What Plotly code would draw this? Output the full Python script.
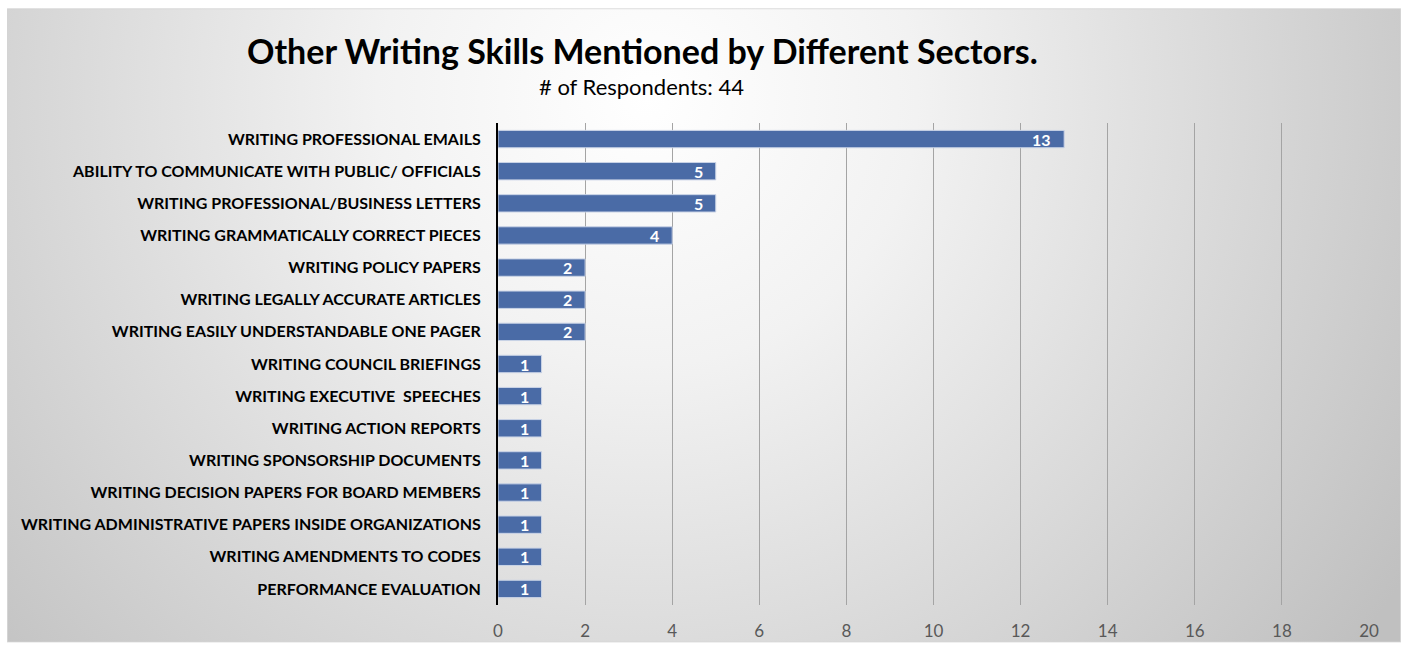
import base64
import plotly.graph_objects as go

# Writing skills named by respondents, listed top to bottom
skills = [
    "WRITING PROFESSIONAL EMAILS",
    "ABILITY TO COMMUNICATE WITH PUBLIC/ OFFICIALS",
    "WRITING PROFESSIONAL/BUSINESS LETTERS",
    "WRITING GRAMMATICALLY CORRECT PIECES",
    "WRITING POLICY PAPERS",
    "WRITING LEGALLY ACCURATE ARTICLES",
    "WRITING EASILY UNDERSTANDABLE ONE PAGER",
    "WRITING COUNCIL BRIEFINGS",
    "WRITING EXECUTIVE  SPEECHES",
    "WRITING ACTION REPORTS",
    "WRITING SPONSORSHIP DOCUMENTS",
    "WRITING DECISION PAPERS FOR BOARD MEMBERS",
    "WRITING ADMINISTRATIVE PAPERS INSIDE ORGANIZATIONS",
    "WRITING AMENDMENTS TO CODES",
    "PERFORMANCE EVALUATION",
]
mentions = [13, 5, 5, 4, 2, 2, 2, 1, 1, 1, 1, 1, 1, 1, 1]
x_ticks = list(range(0, 21, 2))

W, H = 1406, 653
ML, MR, MT, MB = 498, 37, 123, 43
plot_w = W - ML - MR
plot_h = H - MT - MB

# soft radial backdrop for the chart frame
svg = (
    '<svg xmlns="http://www.w3.org/2000/svg" width="1394" height="641" '
    'viewBox="0 0 1394 641" preserveAspectRatio="none">'
    '<defs><radialGradient id="g" gradientUnits="userSpaceOnUse" '
    'cx="640" cy="90" r="900">'
    '<stop offset="0" stop-color="#ffffff"/>'
    '<stop offset="0.3" stop-color="#f2f2f2"/>'
    '<stop offset="1" stop-color="#c0c0c0"/>'
    '</radialGradient></defs>'
    '<rect x="0.5" y="0.5" width="1393" height="640" fill="url(#g)" '
    'stroke="#d4d4d4" stroke-width="1"/></svg>'
)
bg_src = "data:image/svg+xml;base64," + base64.b64encode(svg.encode()).decode()

box_x0, box_y0, box_x1, box_y1 = 7, 7, 1401, 648

fig = go.Figure(
    go.Bar(
        x=mentions,
        y=skills,
        orientation="h",
        marker=dict(color="#4a6ba6", line=dict(color="#c9d3e6", width=1)),
        hoverinfo="x+y",
    )
)

# value labels sitting just inside the end of each bar
value_labels = [
    dict(
        x=v, y=s, xref="x", yref="y",
        text=f"<b>{v}</b>", showarrow=False,
        xanchor="right", yanchor="middle", xshift=-11,
        font=dict(family="Lato", size=16, color="white"),
    )
    for s, v in zip(skills, mentions)
]

fig.update_layout(
    width=W,
    height=H,
    margin=dict(l=ML, r=MR, t=MT, b=MB),
    paper_bgcolor="white",
    plot_bgcolor="rgba(0,0,0,0)",
    bargap=0.46,
    showlegend=False,
    images=[
        dict(
            source=bg_src,
            xref="paper",
            yref="paper",
            x=(box_x0 - ML) / plot_w,
            y=(H - MB - box_y0) / plot_h,
            sizex=(box_x1 - box_x0) / plot_w,
            sizey=(box_y1 - box_y0) / plot_h,
            xanchor="left",
            yanchor="top",
            sizing="stretch",
            layer="below",
        )
    ],
    annotations=value_labels + [
        dict(
            text="<b>Other Writing Skills Mentioned by Different Sectors.</b>",
            xref="paper", yref="paper",
            x=(642 - ML) / plot_w, y=(H - MB - 50) / plot_h,
            xanchor="center", yanchor="middle", showarrow=False,
            font=dict(family="Lato", size=34, color="black"),
        ),
        dict(
            text="# of Respondents: 44",
            xref="paper", yref="paper",
            x=(641 - ML) / plot_w, y=(H - MB - 86) / plot_h,
            xanchor="center", yanchor="middle", showarrow=False,
            font=dict(family="Lato", size=22, color="black"),
        ),
    ],
)

fig.update_xaxes(
    range=[0, 20],
    tickvals=x_ticks,
    showgrid=True,
    gridcolor="#a4a4a4",
    gridwidth=1,
    zeroline=False,
    showline=False,
    ticks="",
    tickfont=dict(family="Lato", size=17, color="#595959"),
    ticklabelstandoff=14,
)
fig.update_yaxes(
    autorange="reversed",
    showline=True,
    linecolor="black",
    linewidth=2,
    ticks="",
    tickfont=dict(family="Lato", size=16, color="black", weight="bold"),
    ticklabelstandoff=12,
)

fig.write_html("out.html")
